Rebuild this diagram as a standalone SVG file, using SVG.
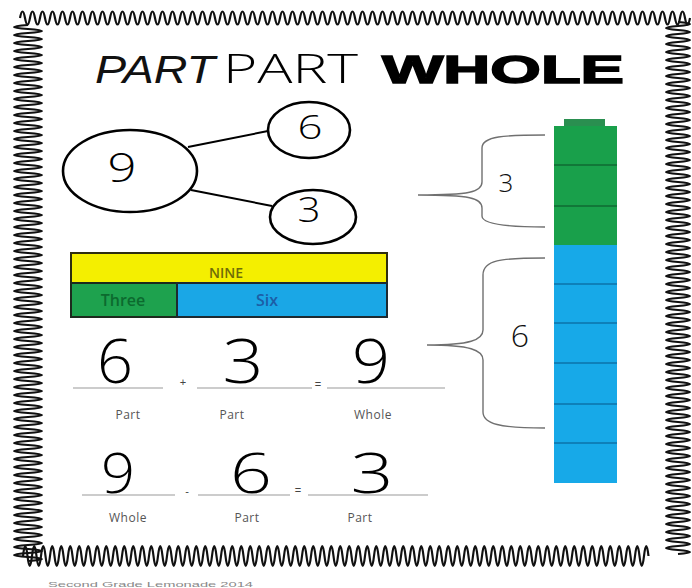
<svg xmlns="http://www.w3.org/2000/svg" width="692" height="588" viewBox="0 0 692 588">
<style>
.wave{fill:none;stroke:#111;stroke-width:2.2;stroke-linejoin:round}
.circ{fill:#fff;stroke:#000;stroke-width:2.6}
.conn{stroke:#000;stroke-width:2;fill:none}
.dig{font-family:"Open Sans","Liberation Sans",sans-serif;font-weight:300;fill:#000;text-anchor:middle}
.lbl{font-family:"Open Sans","Liberation Sans",sans-serif;font-size:12px;fill:#555;text-anchor:middle;letter-spacing:0.5px}
.uline{stroke:#9a9a9a;stroke-width:1.2}
.op{font-family:"Liberation Sans",sans-serif;font-size:11px;fill:#444;text-anchor:middle}
.brace{fill:none;stroke:#707070;stroke-width:1.4}
.div{stroke-width:1.4}
.bartxt{font-family:"Open Sans","Liberation Sans",sans-serif;font-weight:600;text-anchor:middle}
</style>
<rect width="692" height="588" fill="#fff"/>
<g id="border">
<path class="wave" d="M20,18 q2.5,-13 5,0 t5,0 t5,0 t5,0 t5,0 t5,0 t5,0 t5,0 t5,0 t5,0 t5,0 t5,0 t5,0 t5,0 t5,0 t5,0 t5,0 t5,0 t5,0 t5,0 t5,0 t5,0 t5,0 t5,0 t5,0 t5,0 t5,0 t5,0 t5,0 t5,0 t5,0 t5,0 t5,0 t5,0 t5,0 t5,0 t5,0 t5,0 t5,0 t5,0 t5,0 t5,0 t5,0 t5,0 t5,0 t5,0 t5,0 t5,0 t5,0 t5,0 t5,0 t5,0 t5,0 t5,0 t5,0 t5,0 t5,0 t5,0 t5,0 t5,0 t5,0 t5,0 t5,0 t5,0 t5,0 t5,0 t5,0 t5,0 t5,0 t5,0 t5,0 t5,0 t5,0 t5,0 t5,0 t5,0 t5,0 t5,0 t5,0 t5,0 t5,0 t5,0 t5,0 t5,0 t5,0 t5,0 t5,0 t5,0 t5,0 t5,0 t5,0 t5,0 t5,0 t5,0 t5,0 t5,0 t5,0 t5,0 t5,0 t5,0 t5,0 t5,0 t5,0 t5,0 t5,0 t5,0 t5,0 t5,0 t5,0 t5,0 t5,0 t5,0 t5,0 t5,0 t5,0 t5,0 t5,0 t5,0 t5,0 t5,0 t5,0 t5,0 t5,0 t5,0 t5,0 t5,0 t5,0 t5,0 t5,0 t5,0 t5,0 t5,0 t5,0 t5,0"/>
<path class="wave" d="M28,25 q-28,2 0,4 t0,4 t0,4 t0,4 t0,4 t0,4 t0,4 t0,4 t0,4 t0,4 t0,4 t0,4 t0,4 t0,4 t0,4 t0,4 t0,4 t0,4 t0,4 t0,4 t0,4 t0,4 t0,4 t0,4 t0,4 t0,4 t0,4 t0,4 t0,4 t0,4 t0,4 t0,4 t0,4 t0,4 t0,4 t0,4 t0,4 t0,4 t0,4 t0,4 t0,4 t0,4 t0,4 t0,4 t0,4 t0,4 t0,4 t0,4 t0,4 t0,4 t0,4 t0,4 t0,4 t0,4 t0,4 t0,4 t0,4 t0,4 t0,4 t0,4 t0,4 t0,4 t0,4 t0,4 t0,4 t0,4 t0,4 t0,4 t0,4 t0,4 t0,4 t0,4 t0,4 t0,4 t0,4 t0,4 t0,4 t0,4 t0,4 t0,4 t0,4 t0,4 t0,4 t0,4 t0,4 t0,4 t0,4 t0,4 t0,4 t0,4 t0,4 t0,4 t0,4 t0,4 t0,4 t0,4 t0,4 t0,4 t0,4 t0,4 t0,4 t0,4 t0,4 t0,4 t0,4 t0,4 t0,4 t0,4 t0,4 t0,4 t0,4 t0,4 t0,4 t0,4 t0,4 t0,4 t0,4 t0,4 t0,4 t0,4 t0,4 t0,4 t0,4 t0,4 t0,4 t0,4 t0,4 t0,4 t0,4 t0,4 t0,4 t0,4 t0,4 t0,4"/>
<path class="wave" d="M678,22 q24,2 0,4 t0,4 t0,4 t0,4 t0,4 t0,4 t0,4 t0,4 t0,4 t0,4 t0,4 t0,4 t0,4 t0,4 t0,4 t0,4 t0,4 t0,4 t0,4 t0,4 t0,4 t0,4 t0,4 t0,4 t0,4 t0,4 t0,4 t0,4 t0,4 t0,4 t0,4 t0,4 t0,4 t0,4 t0,4 t0,4 t0,4 t0,4 t0,4 t0,4 t0,4 t0,4 t0,4 t0,4 t0,4 t0,4 t0,4 t0,4 t0,4 t0,4 t0,4 t0,4 t0,4 t0,4 t0,4 t0,4 t0,4 t0,4 t0,4 t0,4 t0,4 t0,4 t0,4 t0,4 t0,4 t0,4 t0,4 t0,4 t0,4 t0,4 t0,4 t0,4 t0,4 t0,4 t0,4 t0,4 t0,4 t0,4 t0,4 t0,4 t0,4 t0,4 t0,4 t0,4 t0,4 t0,4 t0,4 t0,4 t0,4 t0,4 t0,4 t0,4 t0,4 t0,4 t0,4 t0,4 t0,4 t0,4 t0,4 t0,4 t0,4 t0,4 t0,4 t0,4 t0,4 t0,4 t0,4 t0,4 t0,4 t0,4 t0,4 t0,4 t0,4 t0,4 t0,4 t0,4 t0,4 t0,4 t0,4 t0,4 t0,4 t0,4 t0,4 t0,4 t0,4 t0,4 t0,4 t0,4 t0,4 t0,4 t0,4 t0,4 t0,4"/>
<path class="wave" d="M23,556 q2.25,-20 4.5,0 t4.5,0 t4.5,0 t4.5,0 t4.5,0 t4.5,0 t4.5,0 t4.5,0 t4.5,0 t4.5,0 t4.5,0 t4.5,0 t4.5,0 t4.5,0 t4.5,0 t4.5,0 t4.5,0 t4.5,0 t4.5,0 t4.5,0 t4.5,0 t4.5,0 t4.5,0 t4.5,0 t4.5,0 t4.5,0 t4.5,0 t4.5,0 t4.5,0 t4.5,0 t4.5,0 t4.5,0 t4.5,0 t4.5,0 t4.5,0 t4.5,0 t4.5,0 t4.5,0 t4.5,0 t4.5,0 t4.5,0 t4.5,0 t4.5,0 t4.5,0 t4.5,0 t4.5,0 t4.5,0 t4.5,0 t4.5,0 t4.5,0 t4.5,0 t4.5,0 t4.5,0 t4.5,0 t4.5,0 t4.5,0 t4.5,0 t4.5,0 t4.5,0 t4.5,0 t4.5,0 t4.5,0 t4.5,0 t4.5,0 t4.5,0 t4.5,0 t4.5,0 t4.5,0 t4.5,0 t4.5,0 t4.5,0 t4.5,0 t4.5,0 t4.5,0 t4.5,0 t4.5,0 t4.5,0 t4.5,0 t4.5,0 t4.5,0 t4.5,0 t4.5,0 t4.5,0 t4.5,0 t4.5,0 t4.5,0 t4.5,0 t4.5,0 t4.5,0 t4.5,0 t4.5,0 t4.5,0 t4.5,0 t4.5,0 t4.5,0 t4.5,0 t4.5,0 t4.5,0 t4.5,0 t4.5,0 t4.5,0 t4.5,0 t4.5,0 t4.5,0 t4.5,0 t4.5,0 t4.5,0 t4.5,0 t4.5,0 t4.5,0 t4.5,0 t4.5,0 t4.5,0 t4.5,0 t4.5,0 t4.5,0 t4.5,0 t4.5,0 t4.5,0 t4.5,0 t4.5,0 t4.5,0 t4.5,0 t4.5,0 t4.5,0 t4.5,0 t4.5,0 t4.5,0 t4.5,0 t4.5,0 t4.5,0 t4.5,0 t4.5,0 t4.5,0 t4.5,0 t4.5,0 t4.5,0 t4.5,0 t4.5,0"/>
</g>
<g id="title">
<text x="95" y="83" font-family="Liberation Sans, sans-serif" font-style="italic" font-size="39" textLength="120" lengthAdjust="spacingAndGlyphs" fill="#111">PART</text>
<text x="223" y="83" font-family="Open Sans, Liberation Sans, sans-serif" font-weight="300" font-size="40" textLength="135" lengthAdjust="spacingAndGlyphs" fill="#000">PART</text>
<text x="382" y="83" font-family="Liberation Sans, sans-serif" font-weight="bold" font-size="39" textLength="242" lengthAdjust="spacingAndGlyphs" fill="#000" stroke="#000" stroke-width="1.5">WHOLE</text>
</g>
<g id="connectors">
<line class="conn" x1="188" y1="147" x2="268" y2="131"/>
<line class="conn" x1="191" y1="190" x2="272" y2="206"/>
</g>
<g id="node-whole">
<ellipse class="circ" cx="130" cy="171" rx="67" ry="41"/>
<text class="dig" x="122" y="182" font-size="40" textLength="29" lengthAdjust="spacingAndGlyphs">9</text>
</g>
<g id="node-part-6">
<ellipse class="circ" cx="309" cy="130" rx="41" ry="28"/>
<text class="dig" x="310" y="139" font-size="33" textLength="25" lengthAdjust="spacingAndGlyphs">6</text>
</g>
<g id="node-part-3">
<ellipse class="circ" cx="313" cy="217" rx="43" ry="27"/>
<text class="dig" x="309" y="222" font-size="34" textLength="23" lengthAdjust="spacingAndGlyphs">3</text>
</g>
<g id="bar-model">
<rect x="71" y="253" width="316" height="30" fill="#f4ef00" stroke="#2e2e10" stroke-width="2"/>
<rect x="71" y="283" width="106" height="34" fill="#1ea24e" stroke="#1d2a1d" stroke-width="2"/>
<rect x="177" y="283" width="210" height="34" fill="#1aa7e6" stroke="#1d2a30" stroke-width="2"/>
<text class="bartxt" x="226" y="278" font-size="14" fill="#6f6c08">NINE</text>
<text class="bartxt" x="123" y="306" font-size="16" fill="#0c6a2e">Three</text>
<text class="bartxt" x="267" y="306" font-size="16" fill="#1c5ea6">Six</text>
</g>
<g id="equation-add">
<line class="uline" x1="73" y1="388" x2="163" y2="388"/>
<line class="uline" x1="197" y1="388" x2="312" y2="388"/>
<line class="uline" x1="327" y1="388" x2="445" y2="388"/>
<text class="dig" x="115" y="383" font-size="60" textLength="36" lengthAdjust="spacingAndGlyphs">6</text>
<text class="dig" x="243" y="383" font-size="60" textLength="41" lengthAdjust="spacingAndGlyphs">3</text>
<text class="dig" x="371" y="383" font-size="60" textLength="38" lengthAdjust="spacingAndGlyphs">9</text>
<text class="op" x="183" y="386">+</text>
<text class="op" x="318" y="388" font-size="7">=</text>
<text class="lbl" x="128" y="419">Part</text>
<text class="lbl" x="232" y="419">Part</text>
<text class="lbl" x="373" y="419">Whole</text>
</g>
<g id="equation-subtract">
<line class="uline" x1="82" y1="495" x2="175" y2="495"/>
<line class="uline" x1="198" y1="495" x2="290" y2="495"/>
<line class="uline" x1="308" y1="495" x2="428" y2="495"/>
<text class="dig" x="118" y="493" font-size="56" textLength="34" lengthAdjust="spacingAndGlyphs">9</text>
<text class="dig" x="251" y="493" font-size="56" textLength="42" lengthAdjust="spacingAndGlyphs">6</text>
<text class="dig" x="372" y="493" font-size="56" textLength="43" lengthAdjust="spacingAndGlyphs">3</text>
<text class="op" x="187" y="495" font-size="9">-</text>
<text class="op" x="298" y="494" font-size="9">=</text>
<text class="lbl" x="128" y="522">Whole</text>
<text class="lbl" x="247" y="522">Part</text>
<text class="lbl" x="360" y="522">Part</text>
</g>
<g id="cube-tower">
<rect x="564" y="119" width="41" height="8" fill="#2a8f50"/>
<rect x="554" y="126" width="63" height="119" fill="#19a04b"/>
<rect x="554" y="245" width="63" height="238" fill="#17a9e8"/>
<g class="div" stroke="#0f6a32">
<line x1="554" y1="165" x2="617" y2="165"/>
<line x1="554" y1="206" x2="617" y2="206"/>
</g>
<g class="div" stroke="#0c73aa">
<line x1="554" y1="284" x2="617" y2="284"/>
<line x1="554" y1="323" x2="617" y2="323"/>
<line x1="554" y1="363" x2="617" y2="363"/>
<line x1="554" y1="404" x2="617" y2="404"/>
<line x1="554" y1="443" x2="617" y2="443"/>
</g>
</g>
<g id="brace-3">
<path class="brace" d="M545,135 C505,135 482,136 482,148 L482,182 C482,192 470,195 418,195 M418,195 C470,195 482,198 482,208 L482,216 C482,224 505,227 545,227"/>
<text x="506" y="192" font-family="Open Sans, Liberation Sans, sans-serif" font-weight="300" font-size="26" fill="#111" text-anchor="middle">3</text>
</g>
<g id="brace-6">
<path class="brace" d="M545,258 C500,258 483,260 483,275 L483,330 C483,340 470,345 427,345 M427,345 C470,345 483,350 483,360 L483,412 C483,424 500,428 545,428"/>
<text x="520" y="347" font-family="Open Sans, Liberation Sans, sans-serif" font-weight="300" font-size="32" fill="#111" text-anchor="middle">6</text>
</g>
<g id="footer">
<text x="48" y="587" font-family="Liberation Sans, sans-serif" font-size="8" fill="#888" textLength="205" lengthAdjust="spacingAndGlyphs">Second Grade Lemonade 2014</text>
</g>
</svg>
